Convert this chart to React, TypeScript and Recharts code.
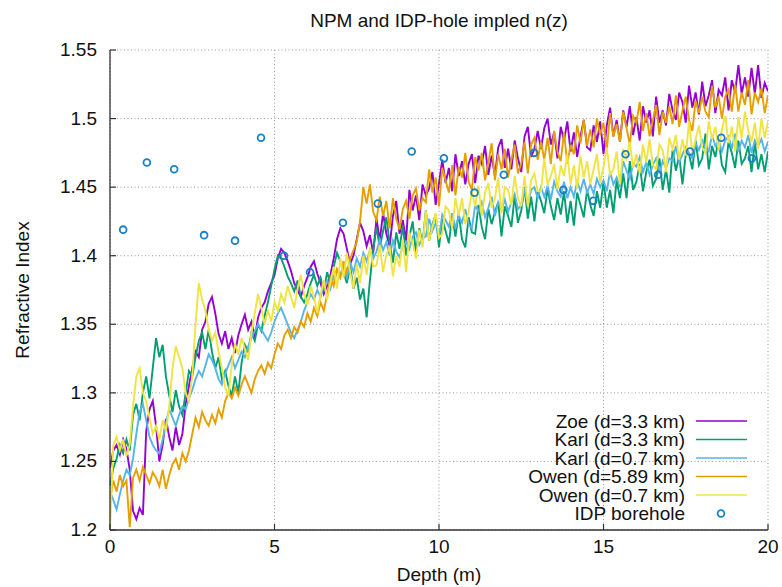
import React from 'react';
import { ComposedChart, Line, Scatter, XAxis, YAxis, CartesianGrid, Legend } from 'recharts';

const depths = [
  0, 0.1, 0.2, 0.3, 0.4, 0.5, 0.6, 0.7, 0.8, 0.9,
  1, 1.1, 1.2, 1.3, 1.4, 1.5, 1.6, 1.7, 1.8, 1.9,
  2, 2.1, 2.2, 2.3, 2.4, 2.5, 2.6, 2.7, 2.8, 2.9,
  3, 3.1, 3.2, 3.3, 3.4, 3.5, 3.6, 3.7, 3.8, 3.9,
  4, 4.1, 4.2, 4.3, 4.4, 4.5, 4.6, 4.7, 4.8, 4.9,
  5, 5.1, 5.2, 5.3, 5.4, 5.5, 5.6, 5.7, 5.8, 5.9,
  6, 6.1, 6.2, 6.3, 6.4, 6.5, 6.6, 6.7, 6.8, 6.9,
  7, 7.1, 7.2, 7.3, 7.4, 7.5, 7.6, 7.7, 7.8, 7.9,
  8, 8.1, 8.2, 8.3, 8.4, 8.5, 8.6, 8.7, 8.8, 8.9,
  9, 9.1, 9.2, 9.3, 9.4, 9.5, 9.6, 9.7, 9.8, 9.9,
  10, 10.1, 10.2, 10.3, 10.4, 10.5, 10.6, 10.7, 10.8, 10.9,
  11, 11.1, 11.2, 11.3, 11.4, 11.5, 11.6, 11.7, 11.8, 11.9,
  12, 12.1, 12.2, 12.3, 12.4, 12.5, 12.6, 12.7, 12.8, 12.9,
  13, 13.1, 13.2, 13.3, 13.4, 13.5, 13.6, 13.7, 13.8, 13.9,
  14, 14.1, 14.2, 14.3, 14.4, 14.5, 14.6, 14.7, 14.8, 14.9,
  15, 15.1, 15.2, 15.3, 15.4, 15.5, 15.6, 15.7, 15.8, 15.9,
  16, 16.1, 16.2, 16.3, 16.4, 16.5, 16.6, 16.7, 16.8, 16.9,
  17, 17.1, 17.2, 17.3, 17.4, 17.5, 17.6, 17.7, 17.8, 17.9,
  18, 18.1, 18.2, 18.3, 18.4, 18.5, 18.6, 18.7, 18.8, 18.9,
  19, 19.1, 19.2, 19.3, 19.4, 19.5, 19.6, 19.7, 19.8, 19.9,
  20,
];

const zoe = [
  1.245, 1.258, 1.262, 1.255, 1.266, 1.259, 1.244, 1.214, 1.208, 1.216,
  1.211, 1.272, 1.288, 1.294, 1.276, 1.250, 1.262, 1.281, 1.268, 1.258,
  1.275, 1.262, 1.270, 1.292, 1.305, 1.318, 1.330, 1.326, 1.346, 1.352,
  1.365, 1.370, 1.358, 1.343, 1.336, 1.345, 1.332, 1.340, 1.329, 1.342,
  1.350, 1.357, 1.346, 1.352, 1.340, 1.355, 1.362, 1.366, 1.374, 1.380,
  1.386, 1.398, 1.405, 1.402, 1.396, 1.389, 1.380, 1.375, 1.370, 1.378,
  1.384, 1.392, 1.396, 1.387, 1.380, 1.372, 1.378, 1.386, 1.398, 1.412,
  1.420, 1.416, 1.405, 1.394, 1.400, 1.412, 1.424, 1.418, 1.407, 1.415,
  1.402,
  1.427, 1.411, 1.431, 1.416, 1.407, 1.429, 1.440, 1.416, 1.426, 1.411,
  1.448, 1.433, 1.444, 1.426, 1.452, 1.444, 1.449, 1.461, 1.437, 1.453,
  1.470, 1.453, 1.464, 1.447, 1.474, 1.458, 1.469, 1.452, 1.467, 1.474,
  1.453, 1.473, 1.467, 1.480, 1.459, 1.473, 1.458, 1.479, 1.485, 1.464,
  1.478, 1.463, 1.484, 1.471, 1.461, 1.487, 1.494, 1.472, 1.478, 1.491,
  1.478, 1.493, 1.500, 1.481, 1.490, 1.471, 1.494, 1.484, 1.498, 1.476,
  1.490, 1.472, 1.487, 1.499, 1.479, 1.477, 1.495, 1.483, 1.498, 1.474,
  1.495, 1.508, 1.487, 1.499, 1.483, 1.506, 1.494, 1.509, 1.488, 1.501,
  1.484, 1.509, 1.497, 1.506, 1.487, 1.516, 1.497, 1.506, 1.495, 1.518,
  1.506, 1.499, 1.519, 1.512, 1.497, 1.524, 1.508, 1.519, 1.503, 1.527,
  1.509, 1.517, 1.528, 1.504, 1.521, 1.517, 1.530, 1.506, 1.528, 1.519,
  1.539, 1.518, 1.530, 1.516, 1.537, 1.518, 1.539, 1.515, 1.526, 1.520,
];

const karl33 = [
  1.232, 1.245, 1.252, 1.262, 1.256, 1.266, 1.258, 1.284, 1.292, 1.280,
  1.300, 1.312, 1.296, 1.318, 1.340, 1.326, 1.335, 1.312, 1.298, 1.286,
  1.302, 1.290, 1.284, 1.300, 1.316, 1.312, 1.326, 1.338, 1.344, 1.332,
  1.346, 1.330, 1.318, 1.326, 1.310, 1.316, 1.305, 1.298, 1.312, 1.300,
  1.322, 1.335, 1.330, 1.344, 1.338, 1.350, 1.345, 1.356, 1.366, 1.378,
  1.390, 1.400, 1.398, 1.392, 1.385, 1.380, 1.374, 1.382, 1.370, 1.366,
  1.372, 1.380, 1.386, 1.378, 1.384, 1.374, 1.388, 1.380, 1.392, 1.402,
  1.396, 1.388, 1.380, 1.392, 1.376, 1.384, 1.368, 1.376, 1.355, 1.382,
  1.404,
  1.421, 1.406, 1.418, 1.428, 1.409, 1.395, 1.417, 1.405, 1.422, 1.400,
  1.414, 1.425, 1.402, 1.420, 1.409, 1.433, 1.411, 1.423, 1.430, 1.406,
  1.427, 1.418, 1.409, 1.429, 1.414, 1.431, 1.412, 1.406, 1.428, 1.417,
  1.416, 1.437, 1.421, 1.412, 1.434, 1.423, 1.432, 1.439, 1.414, 1.436,
  1.429, 1.421, 1.444, 1.424, 1.433, 1.450, 1.427, 1.443, 1.425, 1.447,
  1.440, 1.431, 1.449, 1.436, 1.426, 1.442, 1.430, 1.447, 1.424, 1.440,
  1.422, 1.446, 1.437, 1.428, 1.448, 1.437, 1.429, 1.447, 1.435, 1.454,
  1.435, 1.448, 1.431, 1.455, 1.442, 1.460, 1.442, 1.469, 1.448, 1.454,
  1.467, 1.447, 1.461, 1.470, 1.451, 1.456, 1.471, 1.448, 1.463, 1.446,
  1.477, 1.462, 1.473, 1.452, 1.474, 1.474, 1.463, 1.484, 1.466, 1.471,
  1.489, 1.463, 1.480, 1.472, 1.485, 1.466, 1.461, 1.483, 1.475, 1.464,
  1.484, 1.467, 1.471, 1.480, 1.461, 1.483, 1.463, 1.474, 1.461, 1.476,
];

const karl07 = [
  1.228, 1.222, 1.215, 1.226, 1.236, 1.244, 1.240, 1.252, 1.270, 1.286,
  1.292, 1.280, 1.268, 1.262, 1.258, 1.256, 1.266, 1.278, 1.288, 1.282,
  1.276, 1.284, 1.290, 1.288, 1.296, 1.302, 1.310, 1.316, 1.312, 1.320,
  1.328, 1.324, 1.318, 1.310, 1.306, 1.314, 1.320, 1.326, 1.318, 1.324,
  1.330, 1.326, 1.334, 1.340, 1.345, 1.350, 1.346, 1.342, 1.338, 1.344,
  1.352, 1.358, 1.362, 1.356, 1.350, 1.344, 1.340, 1.346, 1.352, 1.360,
  1.366, 1.372, 1.368, 1.375, 1.370, 1.378, 1.382, 1.376, 1.385, 1.390,
  1.386, 1.392, 1.384, 1.395, 1.388, 1.398, 1.392, 1.402, 1.396, 1.404,
  1.398,
  1.403, 1.412, 1.404, 1.410, 1.400, 1.411, 1.403, 1.399, 1.407, 1.410,
  1.405, 1.414, 1.417, 1.408, 1.413, 1.414, 1.427, 1.418, 1.424, 1.413,
  1.430, 1.426, 1.421, 1.431, 1.420, 1.429, 1.424, 1.434, 1.423, 1.420,
  1.437, 1.432, 1.439, 1.428, 1.435, 1.443, 1.429, 1.439, 1.433, 1.441,
  1.432, 1.439, 1.445, 1.434, 1.437, 1.449, 1.437, 1.448, 1.450, 1.442,
  1.450, 1.443, 1.451, 1.441, 1.454, 1.447, 1.443, 1.454, 1.442, 1.450,
  1.443, 1.454, 1.447, 1.456, 1.446, 1.452, 1.445, 1.456, 1.450, 1.455,
  1.447, 1.461, 1.452, 1.457, 1.450, 1.469, 1.462, 1.456, 1.467, 1.465,
  1.472, 1.461, 1.468, 1.459, 1.466, 1.471, 1.460, 1.469, 1.464, 1.471,
  1.469, 1.480, 1.468, 1.474, 1.479, 1.475, 1.471, 1.482, 1.477, 1.484,
  1.478, 1.476, 1.488, 1.480, 1.484, 1.476, 1.484, 1.487, 1.478, 1.489,
  1.476, 1.484, 1.479, 1.488, 1.475, 1.484, 1.480, 1.485, 1.476, 1.483,
];

const owen589 = [
  1.222, 1.236, 1.228, 1.240, 1.232, 1.236, 1.202, 1.238, 1.244, 1.236,
  1.246, 1.240, 1.234, 1.242, 1.238, 1.232, 1.244, 1.230, 1.240, 1.248,
  1.252, 1.244, 1.256, 1.250, 1.258, 1.270, 1.282, 1.275, 1.286, 1.280,
  1.276, 1.284, 1.278, 1.288, 1.282, 1.294, 1.300, 1.296, 1.304, 1.298,
  1.306, 1.312, 1.306, 1.300, 1.310, 1.316, 1.320, 1.314, 1.322, 1.318,
  1.328, 1.336, 1.332, 1.342, 1.346, 1.340, 1.348, 1.344, 1.352, 1.348,
  1.358, 1.352, 1.362, 1.356, 1.366, 1.360, 1.372, 1.384, 1.378, 1.390,
  1.384, 1.396, 1.388, 1.398, 1.404, 1.410, 1.425, 1.450, 1.438, 1.452,
  1.432,
  1.426, 1.443, 1.429, 1.440, 1.420, 1.442, 1.427, 1.419, 1.434, 1.440,
  1.427, 1.444, 1.449, 1.433, 1.442, 1.439, 1.463, 1.446, 1.457, 1.436,
  1.464, 1.455, 1.446, 1.466, 1.444, 1.465, 1.457, 1.475, 1.454, 1.448,
  1.472, 1.462, 1.475, 1.455, 1.468, 1.482, 1.455, 1.474, 1.463, 1.478,
  1.457, 1.470, 1.481, 1.460, 1.467, 1.483, 1.460, 1.481, 1.486, 1.470,
  1.483, 1.470, 1.486, 1.467, 1.491, 1.476, 1.469, 1.490, 1.467, 1.481,
  1.474, 1.495, 1.482, 1.499, 1.480, 1.492, 1.479, 1.500, 1.488, 1.497,
  1.477, 1.504, 1.487, 1.496, 1.483, 1.505, 1.493, 1.481, 1.502, 1.497,
  1.512, 1.491, 1.504, 1.487, 1.499, 1.510, 1.488, 1.505, 1.497, 1.509,
  1.496, 1.517, 1.494, 1.506, 1.516, 1.499, 1.491, 1.513, 1.504, 1.516,
  1.505, 1.501, 1.524, 1.508, 1.516, 1.500, 1.516, 1.521, 1.505, 1.525,
  1.505, 1.519, 1.510, 1.528, 1.503, 1.519, 1.512, 1.522, 1.504, 1.517,
];

const owen07 = [
  1.200, 1.262, 1.268, 1.258, 1.266, 1.254, 1.262, 1.290, 1.312, 1.318,
  1.300, 1.294, 1.282, 1.270, 1.276, 1.266, 1.280, 1.272, 1.290, 1.318,
  1.334, 1.326, 1.318, 1.300, 1.294, 1.312, 1.350, 1.380, 1.368, 1.360,
  1.346, 1.338, 1.344, 1.330, 1.318, 1.304, 1.298, 1.320, 1.336, 1.328,
  1.340, 1.332, 1.324, 1.344, 1.358, 1.372, 1.362, 1.350, 1.360, 1.352,
  1.366, 1.360, 1.372, 1.366, 1.378, 1.370, 1.362, 1.376, 1.386, 1.372,
  1.364, 1.378, 1.370, 1.358, 1.372, 1.382, 1.368, 1.380, 1.392, 1.376,
  1.398, 1.384, 1.402, 1.388, 1.376, 1.394, 1.380, 1.400, 1.386, 1.406,
  1.392,
  1.393, 1.408, 1.388, 1.401, 1.406, 1.385, 1.400, 1.392, 1.412, 1.388,
  1.417, 1.409, 1.398, 1.419, 1.406, 1.433, 1.411, 1.421, 1.431, 1.413,
  1.416, 1.436, 1.433, 1.420, 1.442, 1.429, 1.442, 1.423, 1.432, 1.447,
  1.436, 1.451, 1.429, 1.446, 1.453, 1.435, 1.442, 1.457, 1.431, 1.450,
  1.448, 1.437, 1.458, 1.442, 1.436, 1.458, 1.436, 1.455, 1.460, 1.447,
  1.447, 1.471, 1.452, 1.458, 1.467, 1.448, 1.466, 1.458, 1.474, 1.452,
  1.466, 1.449, 1.473, 1.457, 1.469, 1.452, 1.463, 1.474, 1.453, 1.465,
  1.479, 1.459, 1.463, 1.476, 1.452, 1.478, 1.471, 1.483, 1.464, 1.474,
  1.460, 1.481, 1.468, 1.485, 1.466, 1.463, 1.481, 1.477, 1.461, 1.486,
  1.478, 1.488, 1.470, 1.485, 1.473, 1.498, 1.475, 1.485, 1.495, 1.479,
  1.475, 1.498, 1.485, 1.494, 1.477, 1.492, 1.502, 1.482, 1.494, 1.476,
  1.501, 1.486, 1.505, 1.491, 1.483, 1.497, 1.478, 1.500, 1.486, 1.498,
];

const boreDepths = [0.4, 1.12, 1.95, 2.86, 3.8, 4.59, 5.29, 6.08, 7.08, 8.14, 9.17, 10.15, 11.08, 11.97, 12.89, 13.78, 14.69, 15.67, 16.66, 17.63, 18.58, 19.51];
const boreN = [1.419, 1.468, 1.463, 1.415, 1.411, 1.486, 1.4, 1.388, 1.424, 1.438, 1.476, 1.471, 1.446, 1.459, 1.475, 1.448, 1.44, 1.474, 1.459, 1.476, 1.486, 1.471];

const xTicks = [0, 5, 10, 15, 20];
const yTicks = [1.2, 1.25, 1.3, 1.35, 1.4, 1.45, 1.5, 1.55];

const seriesKeys = ['zoe', 'karl33', 'karl07', 'owen589', 'owen07'];
const seriesNames = ['Zoe (d=3.3 km)', 'Karl (d=3.3 km)', 'Karl (d=0.7 km)', 'Owen (d=5.89 km)', 'Owen (d=0.7 km)'];
const seriesColors = ['#9400d3', '#009e73', '#56b4e9', '#e69f00', '#f0e442'];
const boreName = 'IDP borehole';
const boreColor = '#1a80c4';

const title = 'NPM and IDP-hole impled n(z)';
const xLabel = 'Depth (m)';
const yLabel = 'Refractive Index';

const seriesValues = [zoe, karl33, karl07, owen589, owen07];
const rows = depths.map((d, i) => {
  const r: Record<string, number> = { depth: d };
  seriesKeys.forEach((k, j) => {
    r[k] = seriesValues[j][i];
  });
  return r;
});
const bore = boreDepths.map((d, i) => ({ depth: d, n: boreN[i] }));

const FONT = '"Liberation Sans", Arial, sans-serif';
const AXIS = '#333';
const FS = 19;

const BottomTick = (p: any) => (
  <g>
    <line x1={p.x} x2={p.x} y1={p.y} y2={p.y - 6} stroke={AXIS} strokeWidth={1.2} />
    <text x={p.x} y={p.y + 23} textAnchor="middle" fontSize={FS} fontFamily={FONT} fill="#111">
      {p.payload.value}
    </text>
  </g>
);
const TopTick = (p: any) => (
  <line x1={p.x} x2={p.x} y1={p.y} y2={p.y + 6} stroke={AXIS} strokeWidth={1.2} />
);
const LeftTick = (p: any) => (
  <g>
    <line x1={p.x} x2={p.x + 6} y1={p.y} y2={p.y} stroke={AXIS} strokeWidth={1.2} />
    <text x={p.x - 13} y={p.y + 6} textAnchor="end" fontSize={FS} fontFamily={FONT} fill="#111">
      {p.payload.value}
    </text>
  </g>
);
const RightTick = (p: any) => (
  <line x1={p.x} x2={p.x - 6} y1={p.y} y2={p.y} stroke={AXIS} strokeWidth={1.2} />
);

const BoreMarker = (p: any) => (
  <circle cx={p.cx} cy={p.cy} r={3.4} fill="none" stroke={boreColor} strokeWidth={1.8} />
);

const ROW0 = 11;
const ROWH = 18.5;
const LegendBox = () => (
  <svg width={260} height={120} style={{ display: 'block' }}>
    {seriesNames.map((name, i) => (
      <g key={name}>
        <text x={165} y={ROW0 + i * ROWH + 6.5} textAnchor="end" fontSize={FS} fontFamily={FONT} fill="#111">
          {name}
        </text>
        <line x1={176} x2={227} y1={ROW0 + i * ROWH} y2={ROW0 + i * ROWH} stroke={seriesColors[i]} strokeWidth={1.5} />
      </g>
    ))}
    <text x={165} y={ROW0 + 5 * ROWH + 6.5} textAnchor="end" fontSize={FS} fontFamily={FONT} fill="#111">
      {boreName}
    </text>
    <circle cx={201} cy={ROW0 + 5 * ROWH} r={3.4} fill="none" stroke={boreColor} strokeWidth={1.8} />
  </svg>
);

export default function App() {
  return (
    <div style={{ position: 'absolute', left: 0, top: 0, width: 782, height: 587, background: '#fff' }}>
      <ComposedChart
        width={782}
        height={587}
        data={rows}
        margin={{ top: 50, right: 14, bottom: 27, left: 50 }}
      >
        <CartesianGrid stroke="#999" strokeDasharray="1 2.5" strokeWidth={1} />
        <XAxis
          dataKey="depth"
          type="number"
          domain={[0, 20]}
          ticks={xTicks}
          interval={0}
          height={30}
          tickSize={0}
          tickMargin={0}
          tick={BottomTick}
          tickLine={false}
          axisLine={{ stroke: AXIS, strokeWidth: 1.3 }}
          allowDataOverflow
        />
        <XAxis
          xAxisId="top"
          orientation="top"
          dataKey="depth"
          type="number"
          domain={[0, 20]}
          ticks={xTicks}
          interval={0}
          height={0}
          tickSize={0}
          tickMargin={0}
          tick={TopTick}
          tickLine={false}
          axisLine={{ stroke: AXIS, strokeWidth: 1.3 }}
          allowDataOverflow
        />
        <YAxis
          type="number"
          domain={[1.2, 1.55]}
          ticks={yTicks}
          interval={0}
          width={60}
          tickSize={0}
          tickMargin={0}
          tick={LeftTick}
          tickLine={false}
          axisLine={{ stroke: AXIS, strokeWidth: 1.3 }}
          allowDataOverflow
        />
        <YAxis
          yAxisId="right"
          orientation="right"
          type="number"
          domain={[1.2, 1.55]}
          ticks={yTicks}
          interval={0}
          width={0}
          tickSize={0}
          tickMargin={0}
          tick={RightTick}
          tickLine={false}
          axisLine={{ stroke: AXIS, strokeWidth: 1.3 }}
          allowDataOverflow
        />
        {seriesKeys.map((k, i) => (
          <Line
            key={k}
            type="linear"
            dataKey={k}
            name={seriesNames[i]}
            stroke={seriesColors[i]}
            strokeWidth={1.9}
            strokeLinejoin="miter"
            dot={false}
            activeDot={false}
            isAnimationActive={false}
          />
        ))}
        <Scatter
          data={bore}
          dataKey="n"
          name={boreName}
          shape={BoreMarker}
          isAnimationActive={false}
        />
        <Legend
          layout="vertical"
          align="center"
          verticalAlign="middle"
          content={LegendBox}
          wrapperStyle={{ left: 520, top: 410, width: 260, height: 120 }}
        />
      </ComposedChart>
      <svg
        width={782}
        height={587}
        style={{ position: 'absolute', left: 0, top: 0, pointerEvents: 'none' }}
      >
        <text x={439} y={27} textAnchor="middle" fontSize={FS} fontFamily={FONT} fill="#111">
          {title}
        </text>
        <text x={439} y={581} textAnchor="middle" fontSize={FS} fontFamily={FONT} fill="#111">
          {xLabel}
        </text>
        <text
          x={29}
          y={290}
          textAnchor="middle"
          fontSize={FS}
          fontFamily={FONT}
          fill="#111"
          transform="rotate(-90 29 290)"
        >
          {yLabel}
        </text>
      </svg>
    </div>
  );
}
